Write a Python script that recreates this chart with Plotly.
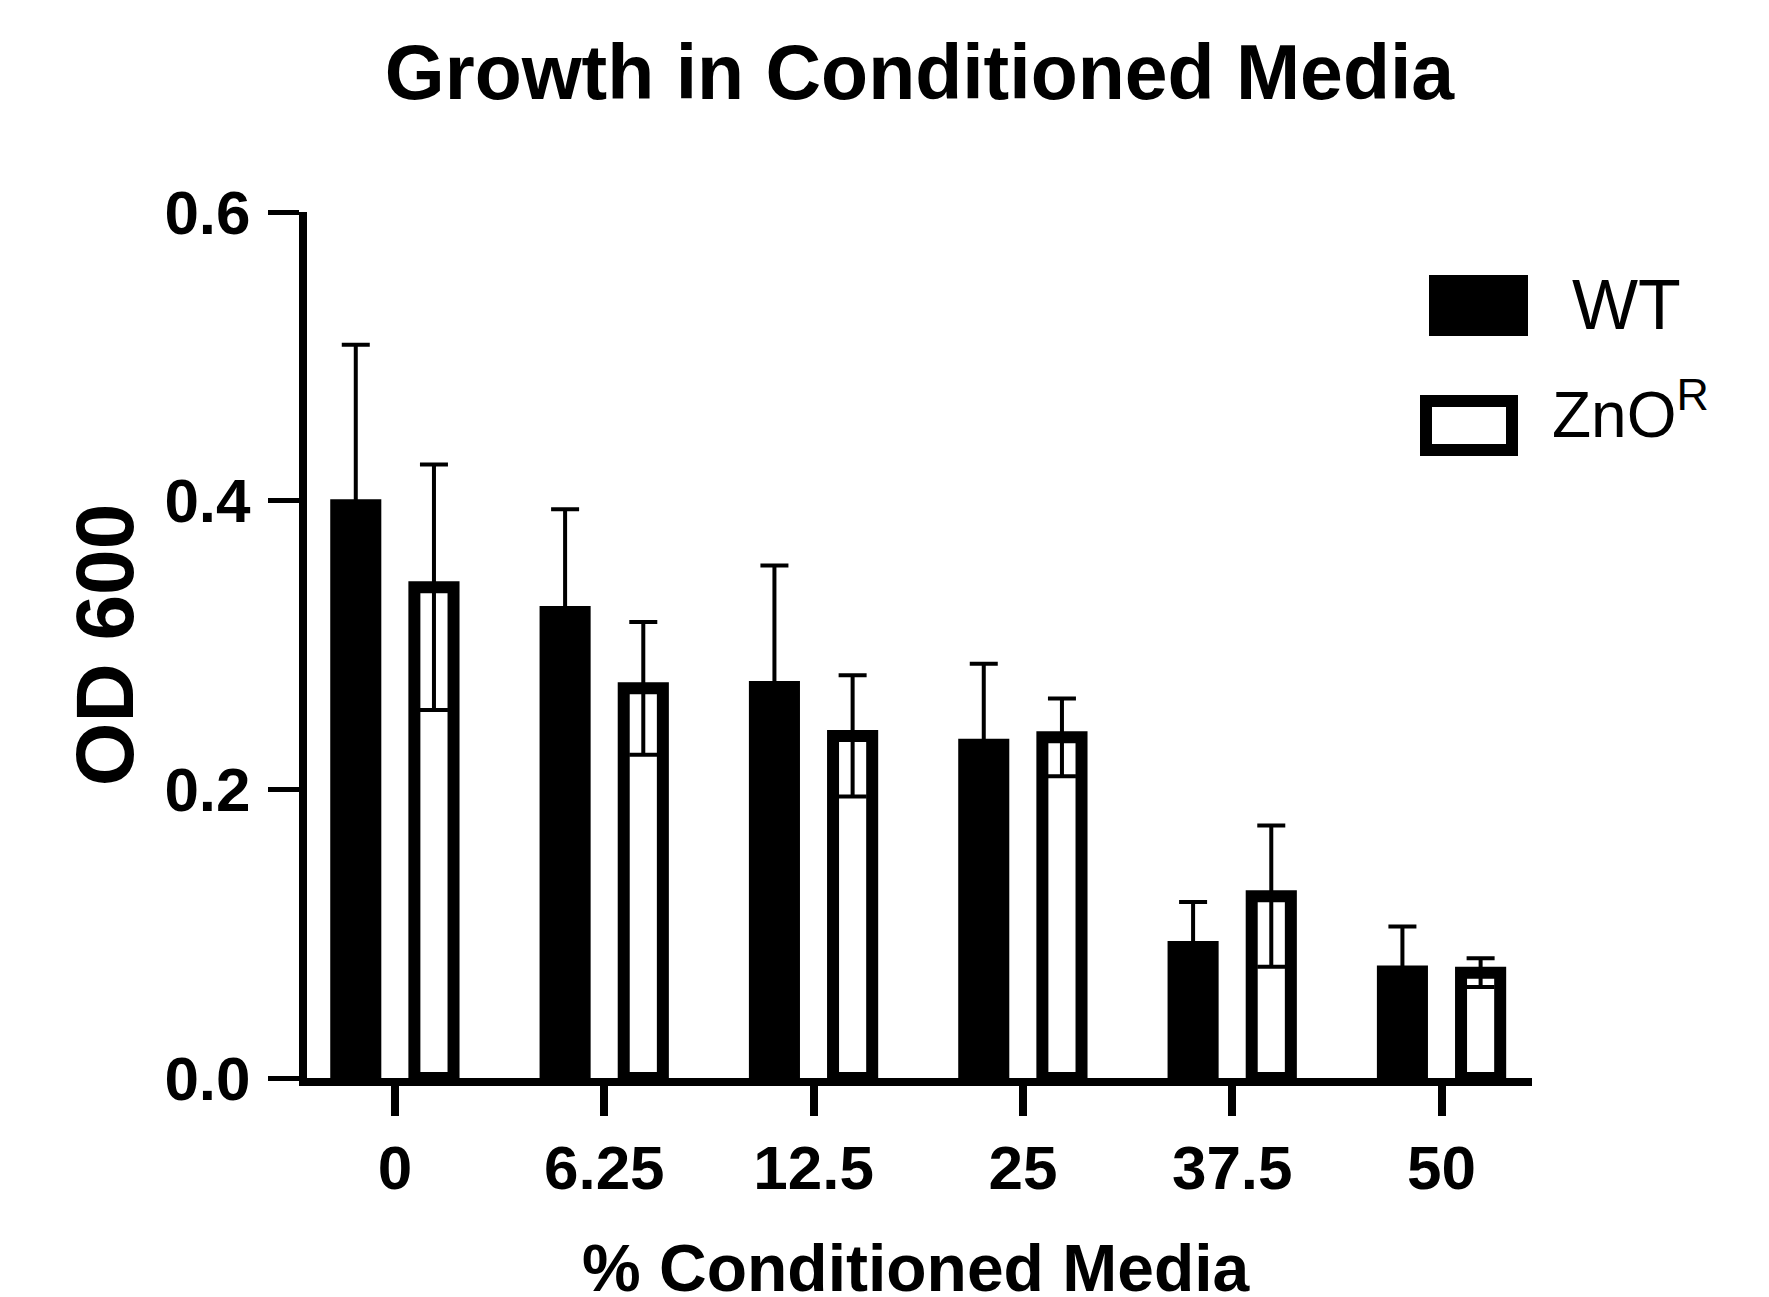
import plotly.graph_objects as go

# ---- data ----
concentrations = ["0", "6.25", "12.5", "25", "37.5", "50"]
wt_mean = [0.401, 0.327, 0.275, 0.235, 0.095, 0.078]
wt_sd = [0.107, 0.067, 0.080, 0.052, 0.027, 0.027]
zno_mean = [0.340, 0.270, 0.237, 0.236, 0.126, 0.073]
zno_sd = [0.085, 0.046, 0.042, 0.027, 0.049, 0.010]
y_ticks = [0.0, 0.2, 0.4, 0.6]

W, H = 1769, 1297
OFF = 8  # page offset of the plot div (default body margin)
ML, MR, MT, MB = 299, 245, 204, 227
PW, PH = W - ML - MR, H - MT - MB


def px_x(p):
    return (p - OFF - ML) / PW


def px_y(p):
    return (H - MB - (p - OFF)) / PH


BOLD = "Liberation Sans, Arial, sans-serif"
LEG = "Liberation Sans Narrow, Liberation Sans, Arial, sans-serif"

fig = go.Figure()
fig.add_trace(go.Bar(
    x=concentrations, y=wt_mean, name="WT",
    width=0.244, offset=-0.309,
    marker=dict(color="black", line=dict(width=0)),
    error_y=dict(type="data", array=wt_sd, color="black", thickness=4, width=14),
    showlegend=False,
))
fig.add_trace(go.Bar(
    x=concentrations, y=zno_mean, name="ZnO<sup>R</sup>",
    width=0.187, offset=0.093,
    marker=dict(color="white", line=dict(color="black", width=12)),
    error_y=dict(type="data", array=zno_sd, color="black", thickness=4, width=14),
    showlegend=False,
))

fig.update_layout(
    width=W, height=H, autosize=False,
    margin=dict(l=ML, r=MR, t=MT, b=MB, pad=0),
    paper_bgcolor="white", plot_bgcolor="white",
    barmode="overlay",
    title=dict(text="<b>Growth in Conditioned Media</b>",
               font=dict(family=BOLD, size=77, color="black"),
               x=0.5, xref="paper", xanchor="center",
               y=1 - 64 / H, yref="container", yanchor="middle"),
    xaxis=dict(
        type="category", range=[-0.42, 5.432], automargin=False,
        showline=True, linecolor="black", linewidth=8,
        ticks="outside", ticklen=30, tickwidth=8, tickcolor="black",
        tickfont=dict(family=BOLD, size=62, color="black", weight="bold"),
        ticklabelstandoff=-1,
        showgrid=False, zeroline=False,
    ),
    yaxis=dict(
        range=[0, 0.6], tickvals=y_ticks, tickformat=".1f", automargin=False,
        showline=True, linecolor="black", linewidth=8,
        ticks="outside", ticklen=31, tickwidth=5, tickcolor="black",
        tickfont=dict(family=BOLD, size=62, color="black", weight="bold"),
        ticklabelstandoff=5,
        showgrid=False, zeroline=False,
        title=dict(text="<b>OD 600</b>", standoff=7,
                   font=dict(family=BOLD, size=82, color="black")),
    ),
)

# x-axis title placed as an annotation for exact vertical placement
fig.add_annotation(xref="paper", yref="paper", x=px_x(916), y=px_y(1268),
                   xanchor="center", yanchor="middle", showarrow=False,
                   text="<b>% Conditioned Media</b>",
                   font=dict(family=BOLD, size=66, color="black"))

# ---- legend drawn manually (large swatches as in the reference) ----
fig.add_shape(type="rect", xref="paper", yref="paper",
              x0=px_x(1429), x1=px_x(1528), y0=px_y(336), y1=px_y(275),
              fillcolor="black", line=dict(width=0))
fig.add_shape(type="rect", xref="paper", yref="paper",
              x0=px_x(1426), x1=px_x(1512), y0=px_y(450), y1=px_y(401),
              fillcolor="white", line=dict(color="black", width=12))
fig.add_annotation(xref="paper", yref="paper", x=px_x(1570), y=px_y(305),
                   xanchor="left", yanchor="middle", showarrow=False,
                   text="WT", font=dict(family=LEG, size=70, color="black"))
fig.add_annotation(xref="paper", yref="paper", x=px_x(1550), y=px_y(410),
                   xanchor="left", yanchor="middle", showarrow=False,
                   text="ZnO<sup>R</sup>", font=dict(family=LEG, size=64, color="black"))

fig.write_html("out.html")
